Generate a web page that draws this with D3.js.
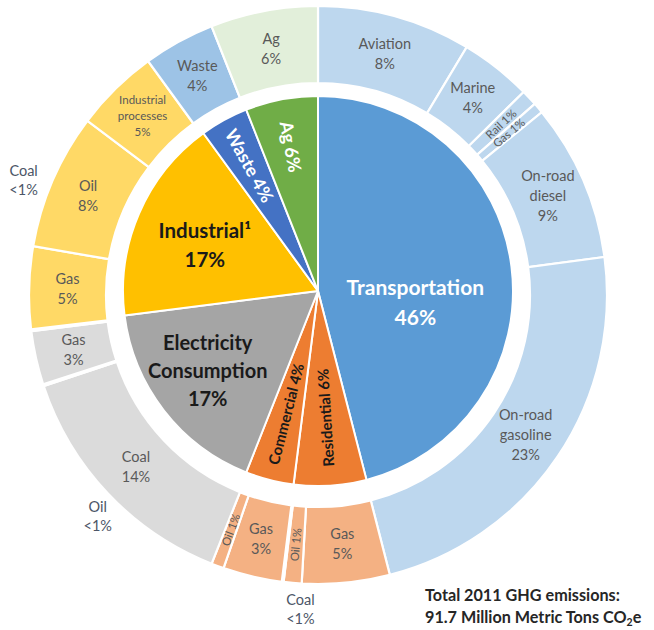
<!DOCTYPE html>
<html>
<head>
<meta charset="utf-8">
<script src="https://cdn.jsdelivr.net/npm/d3@7/dist/d3.min.js"></script>
<style>
  html, body { margin: 0; padding: 0; background: #ffffff; }
  svg { display: block; font-family: Lato, "Open Sans", sans-serif; }
</style>
</head>
<body>
<svg id="chart" width="654" height="630"></svg>
<script>
// ---------------- DATA ----------------
const sectorNames  = ["Transportation", "Residential", "Commercial", "Electricity Consumption", "Industrial", "Waste", "Ag"];
const sectorValues = [46, 6, 4, 17, 17, 4, 6];
const sectorLabels = ["46%", "6%", "4%", "17%", "17%", "4%", "6%"];

const subNames   = ["Aviation", "Marine", "Rail", "Gas", "On-road diesel", "On-road gasoline",
                    "Gas", "Oil", "Coal",
                    "Gas", "Oil",
                    "Coal", "Oil", "Gas",
                    "Coal", "Gas", "Oil", "Industrial processes",
                    "Waste",
                    "Ag"];
const subValues  = [8.6, 4.0, 0.9, 0.6, 8.8, 23.1,
                    4.9, 1.0, 0.1,
                    3.3, 0.7,
                    13.9, 0.1, 3.0,
                    0.1, 4.6, 7.6, 4.7,
                    4.0,
                    6.0];
const subParents = [0, 0, 0, 0, 0, 0,
                    1, 1, 1,
                    2, 2,
                    3, 3, 3,
                    4, 4, 4, 4,
                    5,
                    6];
const subLabels  = ["8%", "4%", "1%", "1%", "9%", "23%",
                    "5%", "1%", "<1%",
                    "3%", "1%",
                    "14%", "<1%", "3%",
                    "<1%", "5%", "8%", "5%",
                    "4%",
                    "6%"];

const totalLine1 = "Total 2011 GHG emissions:";
const totalLine2 = "91.7 Million Metric Tons CO";

// ---------------- STYLE / LAYOUT ----------------
const innerColors = ["#5B9BD5", "#ED7D31", "#ED7D31", "#A5A5A5", "#FFC000", "#4472C4", "#70AD47"];
const outerColors = ["#BDD7EE", "#F4B183", "#F4B183", "#DBDBDB", "#FFD966", "#9DC3E6", "#E2EFDA"];

const pieCx = 318, pieCy = 291, pieR = 195;
const ringCx = 318, ringCy = 295, ringR0 = 212, ringR1 = 289;

const innerLabelStyle = [
  {mode: "flat",   r: 98,  dAng: 14,  size: 21,   color: "#ffffff", lines: ["Transportation", "46%"]},
  {mode: "radial", r: 127, dAng: 0,   size: 15,   color: "#1a1a1a", text: "Residential 6%"},
  {mode: "radial", r: 127, dAng: 0,   size: 15,   color: "#1a1a1a", text: "Commercial 4%"},
  {mode: "flat",   r: 136, dAng: 2,   size: 20,   color: "#1a1a1a", lines: ["Electricity", "Consumption", "17%"]},
  {mode: "flat",   r: 122, dAng: -1.5,size: 20.5, color: "#1a1a1a", lines: ["Industrial\u00B9", "17%"]},
  {mode: "radial", r: 143, dAng: 0,   size: 18,   color: "#ffffff", text: "Waste 4%"},
  {mode: "radial", r: 147, dAng: 0,   size: 18,   color: "#ffffff", text: "Ag 6%"}
];

const outerLabelMode = ["flat", "flat", "radial", "radial", "flat", "flat",
                        "flat", "radial", "outside",
                        "flat", "radial",
                        "flat", "outside", "flat",
                        "outside", "flat", "flat", "flat",
                        "flat",
                        "flat"];
const outsideAnchor = {8: {ang: 183.2, r: 315}, 12: {ang: 224.9, r: 312}, 14: {ang: 291.3, r: 316}};
const smallFlat = {17: 11.5};
const outerTextColor = "#595959";
const outsideTextColor = "#4C5667";

// ---------------- DRAW ----------------
const svg = d3.select("#chart");
const deg = Math.PI / 180;

const pie = d3.pie().sort(null).value(d => d);

const innerArcs = pie(sectorValues);
const innerArc = d3.arc().innerRadius(0).outerRadius(pieR);
const gInner = svg.append("g").attr("transform", `translate(${pieCx},${pieCy})`);
gInner.selectAll("path").data(innerArcs).join("path")
  .attr("d", innerArc)
  .attr("fill", (d, i) => innerColors[i])
  .attr("stroke", "#ffffff").attr("stroke-width", 2).attr("stroke-linejoin", "round");

const outerArcs = pie(subValues);
const outerArc = d3.arc().innerRadius(ringR0).outerRadius(ringR1);
const gOuter = svg.append("g").attr("transform", `translate(${ringCx},${ringCy})`);
gOuter.selectAll("path").data(outerArcs).join("path")
  .attr("d", outerArc)
  .attr("fill", (d, i) => outerColors[subParents[i]])
  .attr("stroke", "#ffffff").attr("stroke-width", 2.2);

function polar(angDeg, r) {
  return [r * Math.sin(angDeg * deg), -r * Math.cos(angDeg * deg)];
}
// text reads outward on the upper-right, inward (bottom-to-top) elsewhere
function radialRot(angDeg) {
  return angDeg < 150 ? angDeg - 90 : angDeg + 90;
}
function multiLine(g, x, y, lines, size, color, weight, lh) {
  const n = lines.length;
  const t = g.append("text")
    .attr("text-anchor", "middle")
    .attr("font-size", size)
    .attr("font-weight", weight)
    .attr("fill", color);
  lines.forEach((ln, k) => {
    t.append("tspan").attr("x", x)
      .attr("y", y + (k - (n - 1) / 2) * lh)
      .attr("dy", "0.35em")
      .text(ln);
  });
}

innerArcs.forEach((a, i) => {
  const s = innerLabelStyle[i];
  const mid = (a.startAngle + a.endAngle) / 2 / deg + s.dAng;
  const [x, y] = polar(mid, s.r);
  if (s.mode === "flat") {
    multiLine(gInner, x, y, s.lines, s.size, s.color, 700, s.size * 1.4);
  } else {
    gInner.append("text")
      .attr("transform", `translate(${x},${y}) rotate(${radialRot(mid - s.dAng)})`)
      .attr("text-anchor", "middle").attr("dy", "0.35em")
      .attr("font-size", s.size).attr("font-weight", 700)
      .attr("fill", s.color)
      .text(s.text);
  }
});

const ringMidR = (ringR0 + ringR1) / 2;
outerArcs.forEach((a, i) => {
  const mode = outerLabelMode[i];
  const mid = (a.startAngle + a.endAngle) / 2 / deg;
  const words = subNames[i] === "On-road diesel" ? ["On-road", "diesel"] :
                subNames[i] === "On-road gasoline" ? ["On-road", "gasoline"] :
                subNames[i] === "Industrial processes" ? ["Industrial", "processes"] : [subNames[i]];
  if (mode === "flat") {
    const [x, y] = polar(mid, ringMidR);
    const size = smallFlat[i] || 14.5;
    multiLine(gOuter, x, y, words.concat([subLabels[i]]), size, outerTextColor, 400, size * 1.38);
  } else if (mode === "radial") {
    const [x, y] = polar(mid, ringMidR);
    gOuter.append("text")
      .attr("transform", `translate(${x},${y}) rotate(${radialRot(mid)})`)
      .attr("text-anchor", "middle").attr("dy", "0.35em")
      .attr("font-size", 11.5).attr("fill", outerTextColor)
      .text(subNames[i] + " " + subLabels[i]);
  } else {
    const an = outsideAnchor[i];
    const [x, y] = polar(an.ang, an.r);
    multiLine(gOuter, x, y, [subNames[i], subLabels[i]], 14.5, outsideTextColor, 400, 19);
  }
});

const tg = svg.append("g").attr("font-weight", 700).attr("fill", "#262626").attr("font-size", 16.2);
tg.append("text").attr("x", 425).attr("y", 601).text(totalLine1);
const t2 = tg.append("text").attr("x", 425).attr("y", 623);
t2.append("tspan").text(totalLine2);
t2.append("tspan").attr("font-size", 10.5).attr("dy", 3).text("2");
t2.append("tspan").attr("dy", -3).text("e");
</script>
</body>
</html>
